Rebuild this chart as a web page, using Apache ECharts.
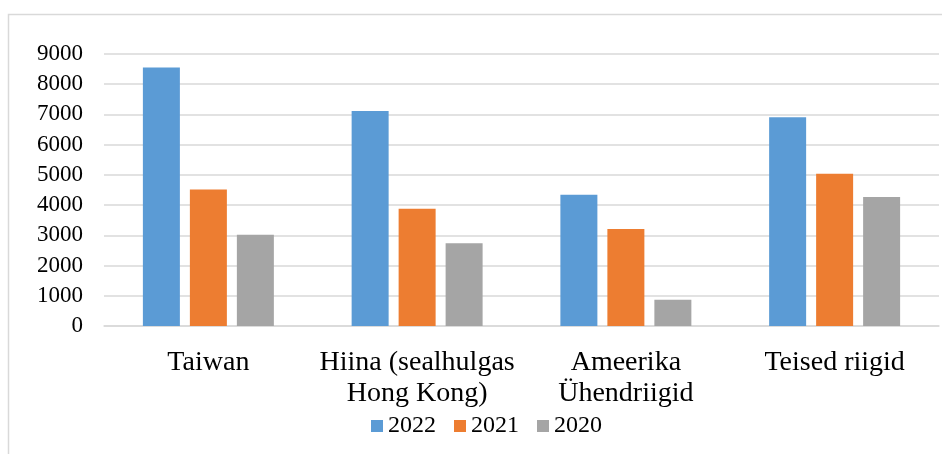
<!DOCTYPE html>
<html>
<head>
<meta charset="utf-8">
<script src="https://cdn.jsdelivr.net/npm/echarts@6/dist/echarts.min.js"></script>
<style>html,body{margin:0;padding:0;background:#fff}#c{width:942px;height:454px}</style>
</head>
<body>
<div id="c"></div>
<script>
const categories = ["Taiwan", "Hiina (sealhulgas\nHong Kong)", "Ameerika\nÜhendriigid", "Teised riigid"];
const seriesNames = ["2022", "2021", "2020"];
const values2022 = [8550, 7110, 4345, 6905];
const values2021 = [4520, 3880, 3210, 5040];
const values2020 = [3020, 2740, 870, 4270];
const colors = ["#5B9BD5", "#ED7D31", "#A5A5A5"];
const yTicks = { min: 0, max: 9000, interval: 1000 };

const font = "Liberation Serif";
const chart = echarts.init(document.getElementById('c'), null, { renderer: 'canvas' });
const dataSets = [values2022, values2021, values2020];
chart.setOption({
  animation: false,
  backgroundColor: '#fff',
  textStyle: { fontFamily: font, color: '#000' },
  graphic: [{
    type: 'rect', silent: true,
    shape: { x: 8.5, y: 14.5, width: 1000, height: 1000 },
    style: { fill: 'none', stroke: '#D9D9D9', lineWidth: 1.5 }
  }],
  grid: { left: 104, right: 3, top: 54, bottom: 128, containLabel: false },
  legend: {
    data: seriesNames,
    top: 409,
    left: 366,
    itemWidth: 12, itemHeight: 12, itemGap: 18,
    icon: 'rect',
    textStyle: { fontFamily: font, fontSize: 24, color: '#000' }
  },
  xAxis: {
    type: 'category', data: categories,
    axisTick: { show: false },
    axisLine: { lineStyle: { color: '#D9D9D9', width: 1.5 } },
    axisLabel: { fontFamily: font, fontSize: 28, color: '#000', lineHeight: 31, margin: 21, interval: 0 }
  },
  yAxis: {
    type: 'value', min: yTicks.min, max: yTicks.max, interval: yTicks.interval,
    axisLine: { show: false }, axisTick: { show: false },
    splitLine: { lineStyle: { color: '#D9D9D9', width: 1.5 } },
    axisLabel: { fontFamily: font, fontSize: 23, color: '#000', margin: 21, formatter: v => String(v) }
  },
  series: seriesNames.map((n, i) => ({
    name: n, type: 'bar', data: dataSets[i],
    barWidth: 37, barGap: '27%',
    itemStyle: { color: colors[i] }
  }))
});
</script>
</body>
</html>
